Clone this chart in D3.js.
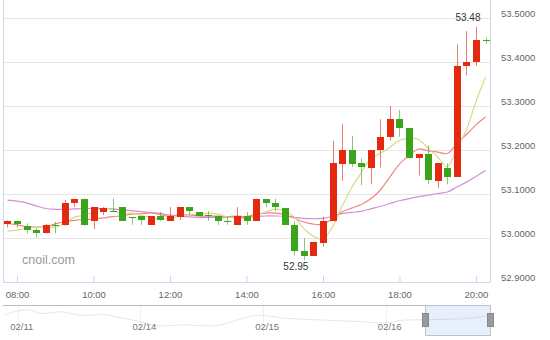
<!DOCTYPE html>
<html>
<head>
<meta charset="utf-8">
<script src="https://cdn.jsdelivr.net/npm/d3@7"></script>
<style>
  body { margin: 0; background: #fff; }
  svg { display: block; font-family: "Liberation Sans", Arial, sans-serif; }
  .axis text { fill: #666; font-size: 9.5px; }
</style>
</head>
<body>
<svg width="550" height="340"></svg>
<script>
// 15 minute candles, 02/16
let times = ["07:45", "08:00", "08:15", "08:30", "08:45", "09:00", "09:15", "09:30", "09:45",
  "10:00", "10:15", "10:30", "10:45", "11:00", "11:15", "11:30", "11:45",
  "12:00", "12:15", "12:30", "12:45", "13:00", "13:15", "13:30", "13:45",
  "14:00", "14:15", "14:30", "14:45", "15:00", "15:15", "15:30", "15:45",
  "16:00", "16:15", "16:30", "16:45", "17:00", "17:15", "17:30", "17:45",
  "18:00", "18:15", "18:30", "18:45", "19:00", "19:15", "19:30", "19:45",
  "20:00", "20:15"];
let openP = [53.031, 53.038, 53.028, 53.018, 53.010, 53.029, 53.029, 53.079, 53.089,
  53.039, 53.060, 53.061, 53.070, 53.048, 53.049, 53.029, 53.049,
  53.039, 53.048, 53.070, 53.059, 53.052, 53.050, 53.039, 53.029,
  53.050, 53.039, 53.089, 53.080, 53.068, 53.029, 52.970, 52.959,
  52.989, 53.039, 53.170, 53.201, 53.171, 53.160, 53.200, 53.230,
  53.270, 53.249, 53.181, 53.190, 53.130, 53.160, 53.139, 53.391,
  53.401, 53.449];
let highP = [53.040, 53.039, 53.033, 53.023, 53.032, 53.037, 53.086, 53.089, 53.090,
  53.070, 53.070, 53.090, 53.070, 53.048, 53.049, 53.049, 53.059,
  53.070, 53.070, 53.070, 53.059, 53.061, 53.050, 53.048, 53.070,
  53.059, 53.089, 53.089, 53.089, 53.068, 53.038, 53.000, 52.990,
  53.048, 53.221, 53.259, 53.232, 53.181, 53.200, 53.270, 53.300,
  53.291, 53.249, 53.190, 53.210, 53.170, 53.170, 53.440, 53.470,
  53.480, 53.456];
let lowP = [53.024, 53.023, 53.010, 53.001, 53.010, 53.011, 53.028, 53.070, 53.028,
  53.020, 53.052, 53.060, 53.039, 53.030, 53.030, 53.029, 53.039,
  53.039, 53.041, 53.052, 53.050, 53.039, 53.030, 53.030, 53.029,
  53.030, 53.039, 53.070, 53.061, 53.030, 52.960, 52.950, 52.959,
  52.980, 53.039, 53.130, 53.161, 53.120, 53.122, 53.160, 53.221,
  53.230, 53.181, 53.142, 53.122, 53.113, 53.122, 53.139, 53.370,
  53.391, 53.441];
let closeP = [53.038, 53.031, 53.020, 53.011, 53.029, 53.028, 53.080, 53.089, 53.030,
  53.070, 53.069, 53.060, 53.039, 53.047, 53.039, 53.049, 53.039,
  53.050, 53.070, 53.061, 53.050, 53.051, 53.039, 53.038, 53.050,
  53.039, 53.089, 53.079, 53.070, 53.030, 52.970, 52.959, 52.990,
  53.039, 53.171, 53.201, 53.170, 53.161, 53.200, 53.230, 53.270,
  53.249, 53.181, 53.190, 53.130, 53.170, 53.139, 53.391, 53.401,
  53.450, 53.448];

// moving average values before enough candles are on screen
let ma5Head = [53.016, 53.018, 53.022, 53.025];
let ma10Head = [53.033, 53.030, 53.026, 53.025, 53.026, 53.032, 53.037, 53.040, 53.042];
let ma30Head = [53.086, 53.084, 53.080, 53.073, 53.067, 53.065, 53.065, 53.066, 53.067,
  53.067, 53.067, 53.066, 53.064, 53.062, 53.060, 53.058, 53.056, 53.052, 53.050,
  53.048, 53.047, 53.047, 53.047, 53.047, 53.047, 53.048, 53.049, 53.050, 53.050];

let yTicks = [52.9, 53.0, 53.1, 53.2, 53.3, 53.4, 53.5];
let xTicks = ["08:00", "10:00", "12:00", "14:00", "16:00", "18:00", "20:00"];

// navigator (hours on trading-day axis, from 02/11 00:00)
let navDays = ["02/11", "02/14", "02/15", "02/16"];
let navHours = [-2.8, -0.75, 2.0, 4.7, 8.3, 12.4, 16.5, 19.4, 21.4, 24.1, 27.6, 32.5, 38.0,
  41.5, 44.9, 47.6, 51.9, 57.4, 62.3, 67.0, 71.3, 76.0, 80.9, 86.3, 92.0];
let navValues = [53.47, 53.82, 54.0, 53.64, 53.82, 53.47, 53.54, 53.30, 53.10, 52.83, 52.40,
  52.50, 52.40, 52.76, 53.30, 53.47, 53.20, 53.04, 52.94, 52.83, 52.70, 53.00, 53.04,
  53.10, 53.45];

let parseT = d3.timeParse("%H:%M");
let fmtT = d3.timeFormat("%H:%M");

let candles = times.map(function (t, i) {
  return { t: parseT(t), o: openP[i], h: highP[i], l: lowP[i], c: closeP[i] };
});

function movingAvg(n, head) {
  return candles.map(function (d, i) {
    if (i < n - 1) return { t: d.t, v: head[i] };
    return { t: d.t, v: d3.mean(closeP.slice(i - n + 1, i + 1)) };
  });
}

let svg = d3.select("svg");

let x = d3.scaleTime().domain([parseT("07:38"), parseT("20:22")]).range([3, 490]);
let y = d3.scaleLinear().domain([52.9, 53.5]).range([282, 18]);

svg.append("clipPath").attr("id", "plot")
  .append("rect").attr("x", 3).attr("y", 0).attr("width", 487).attr("height", 282);

// grid
svg.append("g")
  .selectAll("line")
  .data(yTicks)
  .enter()
  .append("line")
  .attr("x1", 3)
  .attr("x2", 490)
  .attr("y1", function (d) { return Math.round(y(d)) + 0.5; })
  .attr("y2", function (d) { return Math.round(y(d)) + 0.5; })
  .attr("stroke", "#e6e6e6");

// borders
svg.append("line").attr("x1", 3.5).attr("x2", 3.5).attr("y1", 0).attr("y2", 282)
  .attr("stroke", "#ccd6eb");
svg.append("line").attr("x1", 490.5).attr("x2", 490.5).attr("y1", 0).attr("y2", 282)
  .attr("stroke", "#ccd6eb");

// watermark
svg.append("text")
  .attr("x", 22)
  .attr("y", 264)
  .attr("fill", "#999")
  .style("font-size", "12.5px")
  .text("cnoil.com");

let plot = svg.append("g").attr("clip-path", "url(#plot)");

// moving averages
let maLine = d3.line()
  .x(function (d) { return x(d.t); })
  .y(function (d) { return y(d.v); })
  .curve(d3.curveCatmullRom.alpha(0.5));

let maSeries = [
  { data: movingAvg(30, ma30Head), color: "#d58ed6" },
  { data: movingAvg(10, ma10Head), color: "#f38585" },
  { data: movingAvg(5, ma5Head), color: "#d9d98c" }
];

plot.selectAll("path.ma")
  .data(maSeries)
  .enter()
  .append("path")
  .classed("ma", true)
  .attr("d", function (d) { return maLine(d.data); })
  .attr("fill", "none")
  .attr("stroke", function (d) { return d.color; })
  .attr("stroke-width", 1.2);

// candles (red = up, green = down)
function candleColor(d) {
  return d.c >= d.o ? "#e3290f" : "#3ba41b";
}

let cg = plot.selectAll("g.candle")
  .data(candles)
  .enter()
  .append("g")
  .classed("candle", true);

cg.append("line")
  .attr("x1", function (d) { return Math.round(x(d.t)) + 0.5; })
  .attr("x2", function (d) { return Math.round(x(d.t)) + 0.5; })
  .attr("y1", function (d) { return y(d.h); })
  .attr("y2", function (d) { return y(d.l); })
  .attr("stroke", candleColor)
  .attr("stroke-opacity", 0.6);

cg.append("rect")
  .attr("x", function (d) { return Math.round(x(d.t)) - 3; })
  .attr("width", 7)
  .attr("y", function (d) { return Math.round(y(Math.max(d.o, d.c))); })
  .attr("height", function (d) {
    return Math.max(1, Math.round(Math.abs(y(d.o) - y(d.c))));
  })
  .attr("fill", candleColor);

// high / low labels
let hi = candles.reduce(function (a, b) { return b.h > a.h ? b : a; });
let lo = candles.reduce(function (a, b) { return b.l < a.l ? b : a; });

svg.append("text")
  .attr("x", x(hi.t) - 8)
  .attr("y", y(hi.h) - 6)
  .attr("text-anchor", "middle")
  .attr("fill", "#333")
  .style("font-size", "10px")
  .text(hi.h.toFixed(2));

svg.append("text")
  .attr("x", x(lo.t) - 8)
  .attr("y", y(lo.l) + 10)
  .attr("text-anchor", "middle")
  .attr("fill", "#333")
  .style("font-size", "10px")
  .text(lo.l.toFixed(2));

// x axis
let xAxis = svg.append("g")
  .attr("class", "axis")
  .attr("transform", "translate(0,282)")
  .call(d3.axisBottom(x)
    .tickValues(xTicks.map(parseT))
    .tickFormat(fmtT)
    .tickSizeInner(-6)
    .tickSizeOuter(0)
    .tickPadding(9));
xAxis.select(".domain").attr("stroke", "#ccd6eb").attr("d", "M3,0.5H490");
xAxis.selectAll(".tick line").attr("stroke", "#ccd6eb");

// y axis on the right
let yAxis = svg.append("g")
  .attr("class", "axis")
  .attr("transform", "translate(490,0)")
  .call(d3.axisRight(y)
    .tickValues(yTicks)
    .tickFormat(d3.format(".4f"))
    .tickSize(0)
    .tickPadding(11));
yAxis.select(".domain").remove();
yAxis.selectAll(".tick text").attr("dy", "-2px");

// navigator
let navX = d3.scaleLinear().domain([-2.9, 92.4]).range([3, 490]);
let navY = d3.scaleLinear().domain([52.0, 54.2]).range([330, 308]);

let nav = svg.append("g");

nav.selectAll("line.navgrid")
  .data(navDays)
  .enter()
  .append("line")
  .classed("navgrid", true)
  .attr("x1", function (d, i) { return Math.round(navX(i * 24)) + 0.5; })
  .attr("x2", function (d, i) { return Math.round(navX(i * 24)) + 0.5; })
  .attr("y1", 305)
  .attr("y2", 335)
  .attr("stroke", "#f0f0f0");

nav.append("path")
  .datum(navHours)
  .attr("d", d3.line()
    .x(function (d) { return navX(d); })
    .y(function (d, i) { return navY(navValues[i]); })
    .curve(d3.curveMonotoneX))
  .attr("fill", "none")
  .attr("stroke", "#e8e8e8");

nav.selectAll("text")
  .data(navDays)
  .enter()
  .append("text")
  .attr("x", function (d, i) { return navX(i * 24) + 4; })
  .attr("y", 330)
  .attr("text-anchor", "middle")
  .attr("fill", "#777")
  .style("font-size", "9.5px")
  .text(function (d) { return d; });

nav.append("line")
  .attr("x1", 3).attr("x2", 490).attr("y1", 305.5).attr("y2", 305.5)
  .attr("stroke", "#bbbbbb");

let viewStart = 72 + x.domain()[0].getHours() + x.domain()[0].getMinutes() / 60;
let viewEnd = 72 + x.domain()[1].getHours() + x.domain()[1].getMinutes() / 60;
let s0 = Math.round(navX(viewStart)) + 0.5;
let s1 = Math.min(490.5, Math.round(navX(viewEnd)) + 0.5);

nav.append("rect")
  .attr("x", s0)
  .attr("y", 305.5)
  .attr("width", s1 - s0)
  .attr("height", 30)
  .attr("fill", "rgba(102,153,230,0.16)")
  .attr("stroke", "#b8c4d4");

nav.selectAll("rect.handle")
  .data([s0, s1])
  .enter()
  .append("rect")
  .classed("handle", true)
  .attr("x", function (d) { return d - 3; })
  .attr("y", 313.5)
  .attr("width", 6)
  .attr("height", 13)
  .attr("fill", "#9a9a9a")
  .attr("stroke", "#888");
</script>
</body>
</html>
